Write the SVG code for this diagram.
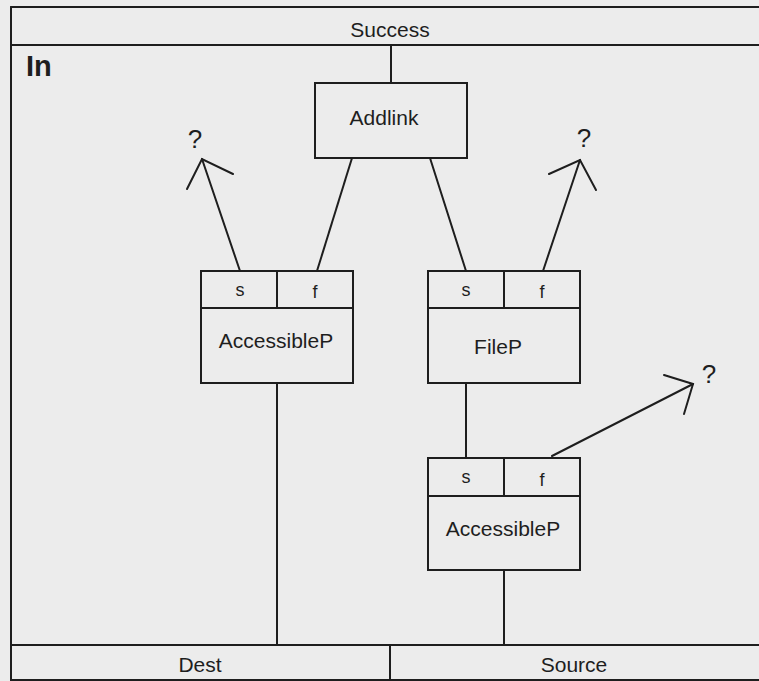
<svg xmlns="http://www.w3.org/2000/svg" width="759" height="681" viewBox="0 0 759 681">
  <style>
    .ln { stroke: #1e1e1e; stroke-width: 2; fill: none; stroke-linecap: round; }
    .box { stroke: #1e1e1e; stroke-width: 2; fill: none; }
    .t { font-family: "Liberation Sans", Arial, sans-serif; font-size: 21px; fill: #1e1e1e; text-anchor: middle; }
    .sm { font-size: 18px; }
    .q { font-family: "Liberation Sans", Arial, sans-serif; font-size: 26px; fill: #1e1e1e; text-anchor: middle; }
    .in { font-family: "Liberation Sans", Arial, sans-serif; font-size: 29px; font-weight: bold; fill: #1e1e1e; }
  </style>
  <rect width="759" height="681" fill="#ececec"/>

  <!-- frame with Success band on top and Dest / Source band at the bottom -->
  <g id="frame">
    <line class="ln" x1="11" y1="7" x2="759" y2="7"/>
    <line class="ln" x1="11" y1="45" x2="759" y2="45"/>
    <line class="ln" x1="11" y1="645" x2="759" y2="645"/>
    <line class="ln" x1="11" y1="680" x2="759" y2="680"/>
    <line class="ln" x1="11" y1="7" x2="11" y2="681"/>
    <line class="ln" x1="390" y1="645" x2="390" y2="681"/>
    <text class="t" x="390" y="37">Success</text>
    <text class="in" x="26" y="76">In</text>
    <text class="t" x="200" y="672">Dest</text>
    <text class="t" x="574" y="672">Source</text>
  </g>

  <g id="addlink">
    <rect class="box" x="315" y="83" width="152" height="75"/>
    <text class="t" x="384" y="125">Addlink</text>
  </g>

  <g id="accessible1">
    <rect class="box" x="201" y="271" width="152" height="112"/>
    <line class="ln" x1="201" y1="308" x2="353" y2="308"/>
    <line class="ln" x1="277" y1="271" x2="277" y2="308"/>
    <text class="t sm" x="240" y="296">s</text>
    <text class="t sm" x="315" y="298">f</text>
    <text class="t" x="276" y="348">AccessibleP</text>
  </g>

  <g id="filep">
    <rect class="box" x="428" y="271" width="152" height="112"/>
    <line class="ln" x1="428" y1="308" x2="580" y2="308"/>
    <line class="ln" x1="504" y1="271" x2="504" y2="308"/>
    <text class="t sm" x="466" y="296">s</text>
    <text class="t sm" x="542" y="298">f</text>
    <text class="t" x="498" y="354">FileP</text>
  </g>

  <g id="accessible2">
    <rect class="box" x="428" y="458" width="152" height="112"/>
    <line class="ln" x1="428" y1="496" x2="580" y2="496"/>
    <line class="ln" x1="504" y1="458" x2="504" y2="496"/>
    <text class="t sm" x="466" y="483">s</text>
    <text class="t sm" x="542" y="486">f</text>
    <text class="t" x="503" y="536">AccessibleP</text>
  </g>

  <g id="connectors">
    <line class="ln" x1="391" y1="45" x2="391" y2="83"/>
    <line class="ln" x1="352" y1="158" x2="317" y2="271"/>
    <line class="ln" x1="430" y1="158" x2="466" y2="271"/>
    <line class="ln" x1="466" y1="383" x2="466" y2="458"/>
    <line class="ln" x1="277" y1="383" x2="277" y2="645"/>
    <line class="ln" x1="504" y1="570" x2="504" y2="645"/>

    <!-- open arrows leading to unknown targets -->
    <line class="ln" x1="240" y1="271" x2="202" y2="159"/>
    <polyline class="ln" points="187,189 202,159 233,174"/>
    <text class="q" x="195" y="148">?</text>

    <line class="ln" x1="543" y1="271" x2="580" y2="160"/>
    <polyline class="ln" points="549,174 580,160 596,190"/>
    <text class="q" x="584" y="147">?</text>

    <line class="ln" x1="552" y1="456" x2="693" y2="384"/>
    <polyline class="ln" points="664,375 693,384 684,414"/>
    <text class="q" x="709" y="383">?</text>
  </g>
</svg>
